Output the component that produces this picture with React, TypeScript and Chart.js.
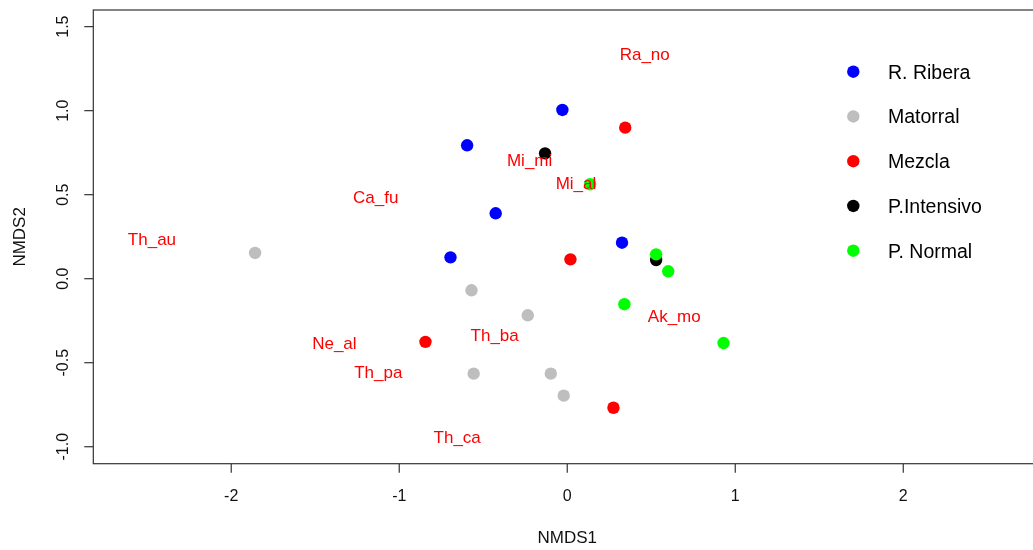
import React, { useEffect, useRef } from "react";
import { Chart, registerables } from "chart.js";

Chart.register(...registerables);

// ---- data ----
const groupNames = ["R. Ribera", "Matorral", "Mezcla", "P.Intensivo", "P. Normal"];
const groupColors = ["#0000FF", "#BEBEBE", "#FF0000", "#000000", "#00FF00"];

const riberaX = [-0.029, -0.596, -0.426, -0.695, 0.326];
const riberaY = [1.004, 0.794, 0.389, 0.127, 0.214];

const matorralX = [-1.858, -0.57, -0.235, -0.557, -0.098, -0.021];
const matorralY = [0.153, -0.069, -0.218, -0.565, -0.565, -0.696];

const mezclaX = [0.345, 0.019, -0.844, 0.275];
const mezclaY = [0.899, 0.115, -0.376, -0.768];

const intensivoX = [-0.132, 0.529];
const intensivoY = [0.746, 0.111];

const normalX = [0.136, 0.529, 0.601, 0.34, 0.93];
const normalY = [0.562, 0.145, 0.044, -0.152, -0.383];

const speciesNames = ["Th_au", "Ca_fu", "Ne_al", "Th_pa", "Th_ca", "Th_ba", "Mi_mi", "Mi_al", "Ra_no", "Ak_mo"];
const speciesX = [-2.472, -1.14, -1.386, -1.125, -0.655, -0.432, -0.224, 0.052, 0.461, 0.637];
const speciesY = [0.23, 0.479, -0.389, -0.563, -0.95, -0.345, 0.701, 0.562, 1.332, -0.23];

const xTicks = [-2, -1, 0, 1, 2];
const xTickLabels = ["-2", "-1", "0", "1", "2"];
const yTicks = [-1, -0.5, 0, 0.5, 1, 1.5];
const yTickLabels = ["-1.0", "-0.5", "0.0", "0.5", "1.0", "1.5"];

const xTitle = "NMDS1";
const yTitle = "NMDS2";

const groupX = [riberaX, matorralX, mezclaX, intensivoX, normalX];
const groupY = [riberaY, matorralY, mezclaY, intensivoY, normalY];

const FONT = '"Liberation Sans", Arial, sans-serif';

const frameAndAxes = {
  id: "frameAndAxes",
  afterDatasetsDraw(chart: any) {
    const ctx = chart.ctx as CanvasRenderingContext2D;
    const { left, right, top, bottom } = chart.chartArea;
    const xs = chart.scales.x;
    const ys = chart.scales.y;
    ctx.save();
    ctx.strokeStyle = "#333333";
    ctx.lineWidth = 1.2;
    ctx.strokeRect(left, top, right - left, bottom - top);

    // x ticks
    ctx.fillStyle = "#111111";
    ctx.font = `16px ${FONT}`;
    ctx.textAlign = "center";
    ctx.textBaseline = "middle";
    xTicks.forEach((v, i) => {
      const px = xs.getPixelForValue(v);
      ctx.beginPath();
      ctx.moveTo(px, bottom);
      ctx.lineTo(px, bottom + 9);
      ctx.stroke();
      ctx.fillText(xTickLabels[i], px, bottom + 33);
    });
    // y ticks
    yTicks.forEach((v, i) => {
      const py = ys.getPixelForValue(v);
      ctx.beginPath();
      ctx.moveTo(left, py);
      ctx.lineTo(left - 9, py);
      ctx.stroke();
      ctx.save();
      ctx.translate(left - 30, py);
      ctx.rotate(-Math.PI / 2);
      ctx.fillText(yTickLabels[i], 0, 0);
      ctx.restore();
    });
    // titles
    ctx.font = `17px ${FONT}`;
    ctx.fillText(xTitle, (xs.getPixelForValue(xs.min) + xs.getPixelForValue(xs.max)) / 2, bottom + 75);
    ctx.save();
    ctx.translate(left - 73, (top + bottom) / 2);
    ctx.rotate(-Math.PI / 2);
    ctx.fillText(yTitle, 0, 0);
    ctx.restore();
    ctx.restore();
  },
};

const speciesLabels = {
  id: "speciesLabels",
  afterDatasetsDraw(chart: any) {
    const ctx = chart.ctx as CanvasRenderingContext2D;
    const xs = chart.scales.x;
    const ys = chart.scales.y;
    ctx.save();
    ctx.fillStyle = "#FF0000";
    ctx.font = `17px ${FONT}`;
    ctx.textAlign = "center";
    ctx.textBaseline = "middle";
    speciesNames.forEach((name, i) => {
      ctx.fillText(name, xs.getPixelForValue(speciesX[i]), ys.getPixelForValue(speciesY[i]));
    });
    ctx.restore();
  },
};

const customLegend = {
  id: "customLegend",
  afterDraw(chart: any) {
    const ctx = chart.ctx as CanvasRenderingContext2D;
    const startY = 71.7;
    const step = 44.75;
    const dotX = 853.3;
    const textX = 888;
    ctx.save();
    ctx.font = `19.5px ${FONT}`;
    ctx.textAlign = "left";
    ctx.textBaseline = "middle";
    chart.data.datasets.forEach((ds: any, i: number) => {
      const y = startY + i * step;
      ctx.beginPath();
      ctx.arc(dotX, y, 6.2, 0, Math.PI * 2);
      ctx.fillStyle = ds.backgroundColor;
      ctx.fill();
      ctx.fillStyle = "#000000";
      ctx.fillText(ds.label, textX, y + 1.5);
    });
    ctx.restore();
  },
};

export default function App() {
  const ref = useRef<HTMLCanvasElement>(null);

  useEffect(() => {
    const canvas = ref.current;
    if (!canvas) return;
    const datasets = groupNames.map((name, i) => ({
      label: name,
      data: groupX[i].map((x, j) => ({ x, y: groupY[i][j] })),
      backgroundColor: groupColors[i],
      borderColor: groupColors[i],
      borderWidth: 0,
      pointRadius: 6.2,
      pointHoverRadius: 6.2,
      order: groupNames.length - i,
    }));
    const chart = new Chart(canvas, {
      type: "scatter",
      data: { datasets },
      options: {
        animation: false,
        responsive: false,
        devicePixelRatio: 1,
        events: [],
        layout: { padding: { left: 93.3, top: 10, right: 18.8, bottom: 86.3 } },
        scales: {
          x: { type: "linear", min: -2.821, max: 2.821, display: false },
          y: { type: "linear", min: -1.101, max: 1.599, display: false },
        },
        plugins: {
          legend: { display: false },
          tooltip: { enabled: false },
          title: { display: false },
        },
      },
      plugins: [frameAndAxes, speciesLabels, customLegend],
    });
    return () => chart.destroy();
  }, []);

  return (
    <div
      style={{
        position: "fixed",
        left: 0,
        top: 0,
        width: 1033,
        height: 550,
        overflow: "hidden",
        background: "#ffffff",
      }}
    >
      <canvas ref={ref} width={1060} height={550} style={{ width: 1060, height: 550, display: "block" }} />
    </div>
  );
}
